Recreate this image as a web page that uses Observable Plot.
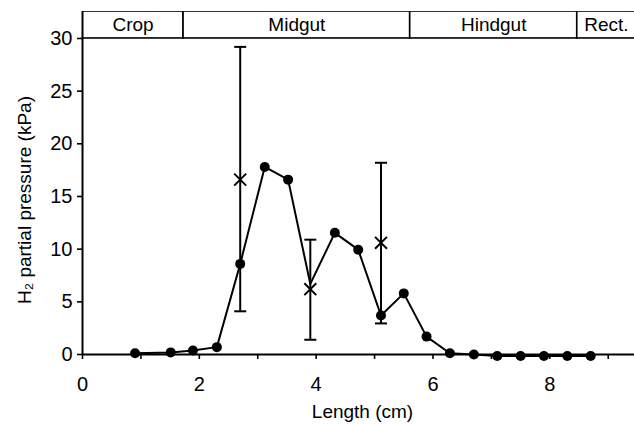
<!DOCTYPE html>
<html>
<head>
<meta charset="utf-8">
<script src="https://cdn.jsdelivr.net/npm/d3@7"></script>
<script src="https://cdn.jsdelivr.net/npm/@observablehq/plot@0.6"></script>
<style>
  html, body { margin: 0; padding: 0; background: #fff; }
  #chart svg { display: block; }
</style>
</head>
<body>
<div id="chart"></div>
<script>
// ---- Data ----
const lengthCm    = [0.9, 1.51, 1.89, 2.3, 2.7, 3.12, 3.52, 3.9, 4.32, 4.72, 5.11, 5.5, 5.89, 6.29, 6.7, 7.1, 7.5, 7.9, 8.3, 8.7];
const pressureKPa = [0.12, 0.2, 0.38, 0.7, 8.6, 17.8, 16.6, 6.7, 11.55, 9.95, 3.7, 5.8, 1.7, 0.12, 0.0, -0.15, -0.15, -0.15, -0.15, -0.15];
const hasDot      = [true, true, true, true, true, true, true, false, true, true, true, true, true, true, true, true, true, true, true, true];

const errLength = [2.7, 3.9, 5.11];
const errMean   = [16.6, 6.2, 10.6];
const errLow    = [4.1, 1.4, 2.95];
const errHigh   = [29.2, 10.9, 18.2];

const regionNames = ["Crop", "Midgut", "Hindgut", "Rect."];
const regionStart = [0, 1.73, 5.61, 8.47];
const regionEnd   = [1.73, 5.61, 8.47, 10];

const xTickLabels = [0, 2, 4, 6, 8];
const xMinorTicks = [1, 3, 5, 7, 9];
const yTickLabels = [0, 5, 10, 15, 20, 25, 30];

// ---- Tables ----
const points = lengthCm.map((x, i) => ({x, y: pressureKPa[i], dot: hasDot[i]}));
const errors = errLength.map((x, i) => ({x, mean: errMean[i], lo: errLow[i], hi: errHigh[i]}));
const regions = regionNames.map((name, i) => ({name, x1: regionStart[i], x2: regionEnd[i]}));

const capSymbol = {
  draw(ctx, size) {
    const r = Math.sqrt(size / Math.PI);
    ctx.moveTo(-r, 0);
    ctx.lineTo(r, 0);
  }
};

const font = "'Liberation Sans', Arial, sans-serif";
const yTop = 32.56, bandBottom = 30;

const chart = Plot.plot({
  width: 634,
  height: 426,
  marginLeft: 82,
  marginRight: 0,
  marginTop: 11,
  marginBottom: 72,
  style: {fontFamily: font, color: "black", background: "white"},
  x: {domain: [0, 9.45], axis: null},
  y: {domain: [0, yTop], axis: null},
  marks: [
    // header band
    Plot.rect(regions, {x1: "x1", x2: "x2", y1: bandBottom, y2: yTop, fill: "white", stroke: "black", strokeWidth: 1.6, clip: true}),
    Plot.text(regions.filter(d => d.name !== "Rect."), {x: d => (d.x1 + d.x2) / 2, y: (bandBottom + yTop) / 2, text: "name", fontSize: 19, fill: "black"}),
    Plot.text(regions.filter(d => d.name === "Rect."), {x: "x1", y: (bandBottom + yTop) / 2, text: "name", fontSize: 19, fill: "black", textAnchor: "start", dx: 7}),
    // axes
    Plot.axisX(xTickLabels, {tickSize: 5, tickPadding: 17, fontSize: 20, stroke: "black", strokeWidth: 1.6, fill: "black", label: null}),
    Plot.axisX(xMinorTicks, {tickSize: 5, tickFormat: () => "", stroke: "black", strokeWidth: 1.6, label: null}),
    Plot.axisY(yTickLabels, {tickSize: 5, tickPadding: 5, fontSize: 20, stroke: "black", strokeWidth: 1.6, fill: "black", label: null}),
    Plot.ruleY([0], {stroke: "black", strokeWidth: 2}),
    Plot.ruleX([0], {y1: 0, y2: yTop, stroke: "black", strokeWidth: 2}),
    // error bars
    Plot.ruleX(errors, {x: "x", y1: "lo", y2: "hi", stroke: "black", strokeWidth: 2}),
    Plot.dot(errors, {x: "x", y: "lo", symbol: capSymbol, r: 6, stroke: "black", strokeWidth: 2, fill: "none"}),
    Plot.dot(errors, {x: "x", y: "hi", symbol: capSymbol, r: 6, stroke: "black", strokeWidth: 2, fill: "none"}),
    // line + dots
    Plot.line(points, {x: "x", y: "y", stroke: "black", strokeWidth: 2}),
    Plot.dot(points.filter(d => d.dot), {x: "x", y: "y", r: 5, fill: "black", stroke: "none"}),
    // mean markers
    Plot.dot(errors, {x: "x", y: "mean", symbol: "times", r: 5.5, stroke: "black", strokeWidth: 2, fill: "white"}),
    // axis titles
    Plot.text(["Length (cm)"], {frameAnchor: "bottom", dy: 63, fontSize: 19, fill: "black", dx: 4}),
    Plot.text(["H₂ partial pressure (kPa)"], {frameAnchor: "left", textAnchor: "middle", rotate: -90, dx: -58, dy: 17, fontSize: 19, fill: "black"})
  ]
});
document.getElementById("chart").appendChild(chart);
</script>
</body>
</html>
